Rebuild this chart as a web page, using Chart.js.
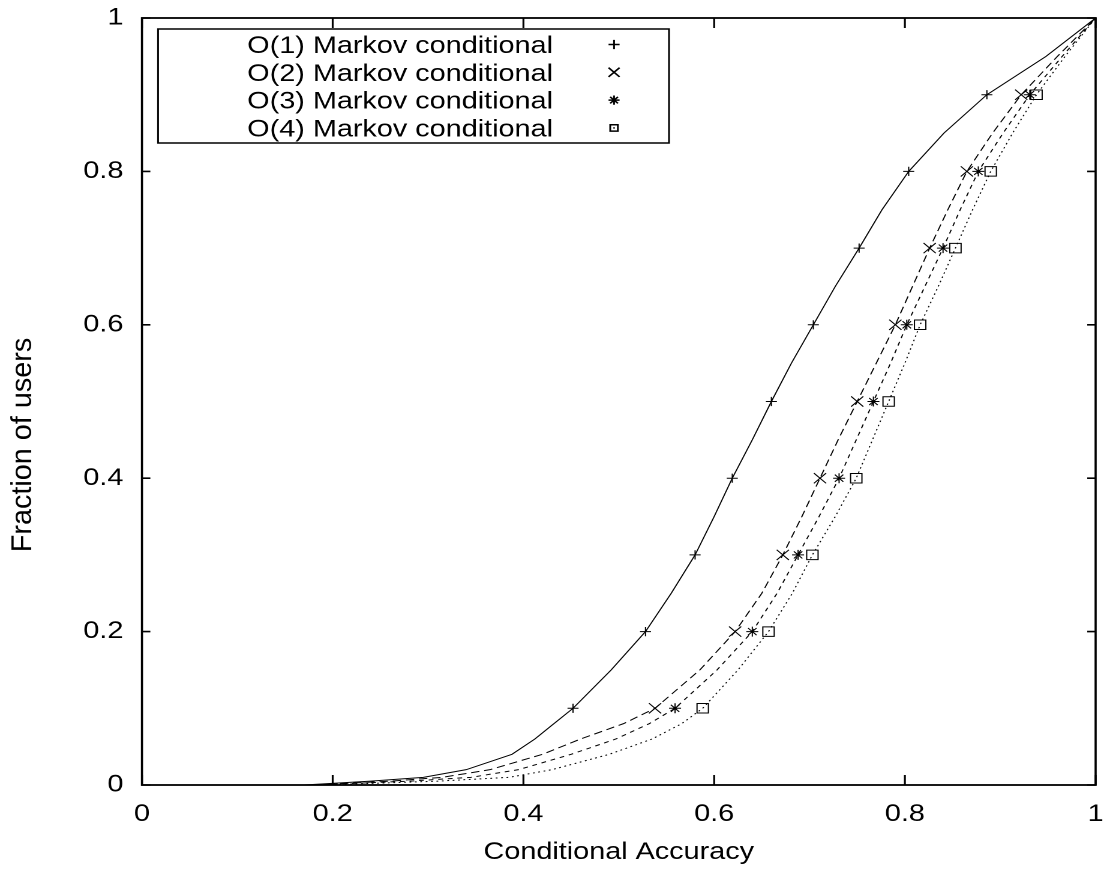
<!DOCTYPE html>
<html>
<head>
<meta charset="utf-8">
<title>Conditional Accuracy CDF</title>
<script src="https://cdn.jsdelivr.net/npm/chart.js@4/dist/chart.umd.min.js"></script>
<style>
    html, body { margin: 0; padding: 0; background: #fff; overflow: hidden; }
    /* gnuplot output was stretched sideways, so draw narrow and widen */
    #wrap { width: 925px; height: 878px; transform: scaleX(1.2); transform-origin: 0 0; }
</style>
</head>
<body>
<div id="wrap"><canvas id="cdfChart"></canvas></div>
<script>
// ========== DATA ==========
const yLevels = [0, 0.005, 0.01, 0.02, 0.04, 0.06, 0.08, 0.1, 0.15, 0.2, 0.25, 0.3, 0.35,
                 0.4, 0.45, 0.5, 0.55, 0.6, 0.65, 0.7, 0.75, 0.8, 0.85, 0.9, 0.95, 1];

const o1Accuracy = [0.17, 0.24, 0.295, 0.34, 0.388, 0.412, 0.432, 0.452, 0.492, 0.528, 0.555, 0.580, 0.600,
                    0.619, 0.640, 0.660, 0.681, 0.704, 0.727, 0.752, 0.776, 0.804, 0.841, 0.886, 0.948, 1];
const o2Accuracy = [0.18, 0.26, 0.315, 0.365, 0.42, 0.46, 0.505, 0.538, 0.585, 0.622, 0.650, 0.672, 0.692,
                    0.711, 0.730, 0.750, 0.770, 0.790, 0.808, 0.826, 0.845, 0.865, 0.892, 0.922, 0.960, 1];
const o3Accuracy = [0.18, 0.28, 0.345, 0.395, 0.45, 0.497, 0.532, 0.559, 0.603, 0.640, 0.666, 0.688, 0.710,
                    0.731, 0.749, 0.767, 0.785, 0.802, 0.821, 0.840, 0.858, 0.877, 0.903, 0.931, 0.965, 1];
const o4Accuracy = [0.19, 0.31, 0.385, 0.43, 0.49, 0.535, 0.566, 0.588, 0.625, 0.657, 0.682, 0.703, 0.727,
                    0.749, 0.766, 0.783, 0.800, 0.816, 0.835, 0.853, 0.871, 0.890, 0.913, 0.938, 0.968, 1];

const markerLevels = [0.1, 0.2, 0.3, 0.4, 0.5, 0.6, 0.7, 0.8, 0.9];
const seriesLabels = ['O(1) Markov conditional', 'O(2) Markov conditional',
                      'O(3) Markov conditional', 'O(4) Markov conditional'];
const xTitle = 'Conditional Accuracy';
const yTitle = 'Fraction of users';

// ========== STYLE ==========
const FONT = '"Liberation Sans", Arial, Helvetica, sans-serif';
const seriesStyles = [
    { dash: [],        point: 'cross',    radius: 4.6, legendRadius: 4.6 },
    { dash: [7, 4],    point: 'crossRot', radius: 7.2, legendRadius: 6.5 },
    { dash: [4, 4],    point: 'star',     radius: 5,   legendRadius: 4.6 },
    { dash: [1.5, 3],  point: 'rect',     radius: 6.7, legendRadius: 4.5 }
];
const allAccuracy = [o1Accuracy, o2Accuracy, o3Accuracy, o4Accuracy];

Chart.defaults.font.family = FONT;
Chart.defaults.font.size = 24;
Chart.defaults.color = '#000';

const datasets = allAccuracy.map((acc, i) => ({
    label: seriesLabels[i],
    data: acc.map((x, k) => ({ x: x, y: yLevels[k] })),
    borderColor: '#000',
    borderWidth: 1,
    borderDash: seriesStyles[i].dash,
    tension: 0,
    fill: false,
    pointStyle: seriesStyles[i].point,
    pointRadius: ctx => markerLevels.includes(yLevels[ctx.dataIndex]) ? seriesStyles[i].radius : 0,
    pointBorderColor: '#000',
    pointBackgroundColor: 'rgba(0,0,0,0)',
    pointBorderWidth: 1,
    clip: false
}));

// gnuplot style numbers: 0, 0.2, ..., 1
const tickText = value => String(Math.round(value * 10) / 10);

// ========== FRAME, INWARD TICKS, KEY, Y TITLE ==========
const gnuplotDecor = {
    id: 'gnuplotDecor',
    afterDatasetsDraw(chart) {
        const { ctx, chartArea: a, scales } = chart;
        ctx.save();
        ctx.strokeStyle = '#000';
        ctx.setLineDash([]);

        // border
        ctx.lineWidth = 1.8;
        ctx.strokeRect(a.left, a.top, a.right - a.left, a.bottom - a.top);

        // ticks on all four sides, pointing inward
        ctx.lineWidth = 1.6;
        ctx.beginPath();
        scales.x.ticks.forEach(t => {
            const px = scales.x.getPixelForValue(t.value);
            ctx.moveTo(px, a.bottom); ctx.lineTo(px, a.bottom - 10);
            ctx.moveTo(px, a.top);    ctx.lineTo(px, a.top + 10);
        });
        scales.y.ticks.forEach(t => {
            const py = scales.y.getPixelForValue(t.value);
            ctx.moveTo(a.left, py);  ctx.lineTo(a.left + 7, py);
            ctx.moveTo(a.right, py); ctx.lineTo(a.right - 7, py);
        });
        ctx.stroke();

        // key box
        const box = { left: 131.7, top: 29, right: 557.5, bottom: 143 };
        ctx.lineWidth = 1.5;
        ctx.strokeRect(box.left, box.top, box.right - box.left, box.bottom - box.top);

        const rowY = [44.5, 72.3, 100.1, 127.9];
        ctx.font = '24px ' + FONT;
        ctx.textAlign = 'right';
        ctx.textBaseline = 'alphabetic';
        seriesLabels.forEach((label, i) => {
            ctx.fillStyle = '#000';
            ctx.fillText(label, 460.8, rowY[i] + 8.6);
            const st = seriesStyles[i];
            ctx.fillStyle = 'rgba(0,0,0,0)';
            ctx.strokeStyle = '#000';
            Chart.helpers.drawPoint(ctx, {
                pointStyle: st.point, radius: st.legendRadius, rotation: 0, borderWidth: 1
            }, 511.7, rowY[i]);
            if (st.point === 'rect') {
                ctx.fillStyle = '#000';
                ctx.beginPath();
                ctx.arc(511.7, rowY[i], 0.8, 0, Math.PI * 2);
                ctx.fill();
            }
        });

        // y title, rotated
        ctx.fillStyle = '#000';
        ctx.translate(19.2, 445);
        ctx.rotate(-Math.PI / 2);
        ctx.scale(1.2, 1);
        ctx.textAlign = 'center';
        ctx.textBaseline = 'middle';
        ctx.fillText(yTitle, 0, 0);
        ctx.restore();
    }
};

new Chart(document.getElementById('cdfChart'), {
    type: 'line',
    data: { datasets: datasets },
    options: {
        responsive: true,
        maintainAspectRatio: false,
        devicePixelRatio: 2,
        animation: false,
        layout: { padding: { top: 18, right: 12, left: 0, bottom: 0 } },
        plugins: {
            legend: { display: false },
            tooltip: { enabled: false }
        },
        scales: {
            x: {
                type: 'linear',
                min: 0,
                max: 1,
                ticks: { stepSize: 0.2, padding: 15, maxRotation: 0, color: '#000', callback: tickText },
                grid: { display: false, drawTicks: false },
                border: { display: false },
                title: {
                    display: true,
                    text: xTitle,
                    color: '#000',
                    font: { size: 24 },
                    padding: { top: 0, bottom: 11 }
                },
                afterFit: scale => {
                    scale.height = 93;
                    scale.paddingLeft = 0;
                    scale.paddingRight = 0;
                }
            },
            y: {
                type: 'linear',
                min: 0,
                max: 1,
                ticks: { stepSize: 0.2, padding: 15.5, color: '#000', callback: tickText },
                grid: { display: false, drawTicks: false },
                border: { display: false },
                afterFit: scale => {
                    scale.width = 118.3;
                    scale.paddingTop = 0;
                    scale.paddingBottom = 0;
                }
            }
        }
    },
    plugins: [gnuplotDecor]
});
</script>
</body>
</html>
